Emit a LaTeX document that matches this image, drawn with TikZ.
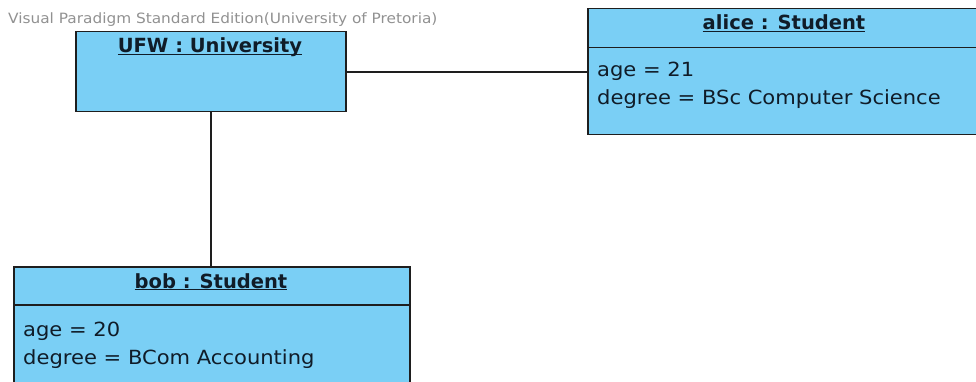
\documentclass[tikz,border=0pt]{standalone}
\usepackage{fontspec}
\setmainfont{DejaVu Sans}
\newfontfamily\vpfont[FakeStretch=1.08]{DejaVu Sans}
\definecolor{vpfill}{RGB}{122,207,245}
\definecolor{vptext}{RGB}{16,28,40}
\definecolor{vpline}{RGB}{30,30,30}
\definecolor{vpgray}{RGB}{145,145,145}
\newcommand{\objname}[1]{\underline{\smash{#1}}}
\tikzset{
  objbox/.style={draw=vpline, line width=1.5pt, fill=vpfill, anchor=north west, inner sep=0pt},
  objtitle/.style={anchor=base, inner sep=0pt, text=vptext, font=\fontsize{19.5}{28}\selectfont\bfseries},
  objattr/.style={anchor=base west, inner sep=0pt, text=vptext, font=\vpfont\fontsize{19.5}{28}\selectfont},
  link/.style={draw=vpline, line width=2pt}
}
\begin{document}
\begin{tikzpicture}[x=1pt, y=-1pt]
\useasboundingbox (0,0) rectangle (976,382);
\clip (0,0) rectangle (976,382);
\node[anchor=base west, inner sep=0pt, text=vpgray, font=\vpfont\fontsize{14.2}{16}\selectfont] (edition) at (8,24) {Visual Paradigm Standard Edition(University of Pretoria)};
\node[objbox, minimum width=270pt, minimum height=80pt] (ufw) at (75,31) {};
\node[objtitle] (ufwname) at (210,53) {\objname{UFW : University}};
\node[objbox, minimum width=394pt, minimum height=39pt] (alicehead) at (587,8) {};
\node[objbox, minimum width=394pt, minimum height=87pt] (alicebody) at (587,47) {};
\node[objtitle] (alicename) at (784,30) {\objname{alice : Student}};
\node[objattr] (aliceage) at (597,77) {age = 21};
\node[objattr] (alicedegree) at (597,105) {degree = BSc Computer Science};
\node[objbox, minimum width=396pt, minimum height=38pt] (bobhead) at (13,266) {};
\node[objbox, minimum width=396pt, minimum height=100pt] (bobbody) at (13,304) {};
\node[objtitle] (bobname) at (211,288) {\objname{bob : Student}};
\node[objattr] (bobage) at (23,336) {age = 20};
\node[objattr] (bobdegree) at (23,364) {degree = BCom Accounting};
\draw[link] (ufw.east) -- (ufw.east -| alicebody.west);
\draw[link] (ufw.south) -- (ufw.south |- bobhead.north);
\end{tikzpicture}
\end{document}
